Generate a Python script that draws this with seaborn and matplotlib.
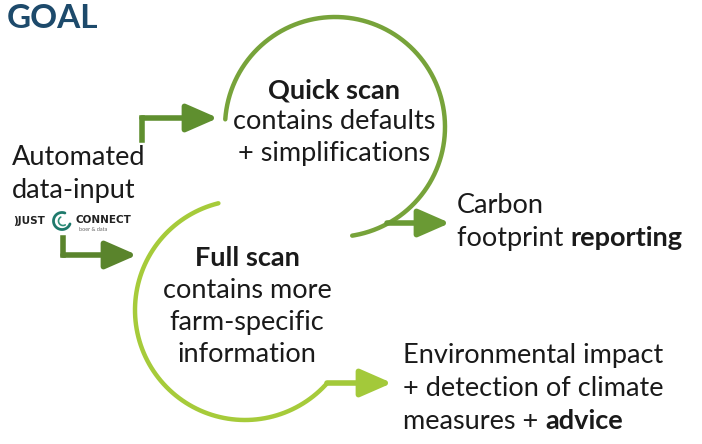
import numpy as np
import pandas as pd
import matplotlib
matplotlib.use("Agg")
import matplotlib.pyplot as plt
import seaborn as sns

# diagram elements (pixel space of the 702x444 slide)
loop_names = ["Quick scan", "Full scan"]
loop_centres = [(335, 127), (245, 310)]
loop_radius = [110, 110]
loop_angles = [(176, -81), (104, 318)]      # start / end angle in degrees
loop_colours = ["#77a33a", "#a6cb3a"]

arrow_paths = [
    [(142, 140), (142, 118), (218, 118)],   # automated -> quick scan
    [(63, 238), (63, 255), (137, 255)],     # automated -> full scan
    [(387, 223), (450, 223)],               # quick scan -> carbon
    [(327, 383), (392, 383)],               # full scan -> environment
]
arrow_colours = ["#5f8f2f", "#5a842c", "#6a9a34", "#a3c93a"]

quick_lines = ["contains defaults", "+ simplifications"]
full_lines = ["contains more", "farm-specific", "information"]
input_lines = ["Automated", "data-input"]

sns.set_theme(style="white")
plt.rcParams["font.family"] = ["Lato", "DejaVu Sans"]

fig = plt.figure(figsize=(7.02, 4.44), dpi=100)
ax = fig.add_axes([0, 0, 1, 1])
ax.set_xlim(0, 702)
ax.set_ylim(444, 0)
ax.axis("off")

# the two loops
for (cx, cy), r, (a0, a1), col in zip(loop_centres, loop_radius, loop_angles, loop_colours):
    phi = np.radians(np.linspace(a0, a1, 200))
    arc = pd.DataFrame({"x": cx + r * np.cos(phi), "y": cy - r * np.sin(phi)})
    sns.lineplot(data=arc, x="x", y="y", sort=False, estimator=None,
                 color=col, lw=3.2, ax=ax)

# arrows: straight legs, then the head on the last leg
for path, col in zip(arrow_paths, arrow_colours):
    if len(path) > 2:
        xs, ys = zip(*path[:-1])
        ax.plot(xs, ys, color=col, lw=4, solid_capstyle="projecting")
    ax.annotate("", xy=path[-1], xytext=path[-2],
                arrowprops=dict(arrowstyle="-|>,head_length=1.6,head_width=0.7",
                                color=col, lw=4, shrinkA=0, shrinkB=0))
ax.set_xlabel("")
ax.set_ylabel("")

ink = "#1a1a1a"
fs = 19.5

ax.text(7, 19, "GOAL", fontsize=24, fontweight="bold", color="#1d4a6b", va="center")

for i, s in enumerate(input_lines):
    ax.text(12, 157 + i * 33, s, fontsize=fs, color=ink, va="center")

ax.text(334, 90, "Quick scan", fontsize=fs, fontweight="bold", color=ink,
        ha="center", va="center")
for i, s in enumerate(quick_lines):
    ax.text(334, 121 + i * 32, s, fontsize=fs, color=ink, ha="center", va="center")

ax.text(247, 258, "Full scan", fontsize=fs, fontweight="bold", color=ink,
        ha="center", va="center")
for i, s in enumerate(full_lines):
    ax.text(247, 290 + i * 32, s, fontsize=fs, color=ink, ha="center", va="center")

ax.text(457, 205, "Carbon", fontsize=fs, color=ink, va="center")
t = ax.text(457, 238, "footprint ", fontsize=fs, color=ink, va="center")
ax.annotate("reporting", xy=(1, 0.5), xycoords=t, fontsize=fs, fontweight="bold",
            color=ink, va="center")

ax.text(403, 355, "Environmental impact", fontsize=fs, color=ink, va="center")
ax.text(403, 388, "+ detection of climate", fontsize=fs, color=ink, va="center")
t = ax.text(403, 421, "measures + ", fontsize=fs, color=ink, va="center")
ax.annotate("advice", xy=(1, 0.5), xycoords=t, fontsize=fs, fontweight="bold",
            color=ink, va="center")

# little logo
ax.text(13, 221, ")JUST", fontsize=7.5, fontweight="bold", color="#222222", va="center",
        family="DejaVu Sans")
phi = np.radians(np.linspace(70, 340, 60))
ax.plot(62 + 8.5 * np.cos(phi), 221 - 8.5 * np.sin(phi), color="#1f7a6c", lw=2)
phi = np.radians(np.linspace(120, 300, 40))
ax.plot(63 + 4.5 * np.cos(phi), 221 - 4.5 * np.sin(phi), color="#2f8f7a", lw=1.2)
ax.text(75, 220, "CONNECT", fontsize=7.5, fontweight="bold", color="#222222", va="center",
        family="DejaVu Sans")
ax.text(79, 229, "boer & data", fontsize=4, color="#666666", va="center")

fig.savefig("out.png", dpi=100)
